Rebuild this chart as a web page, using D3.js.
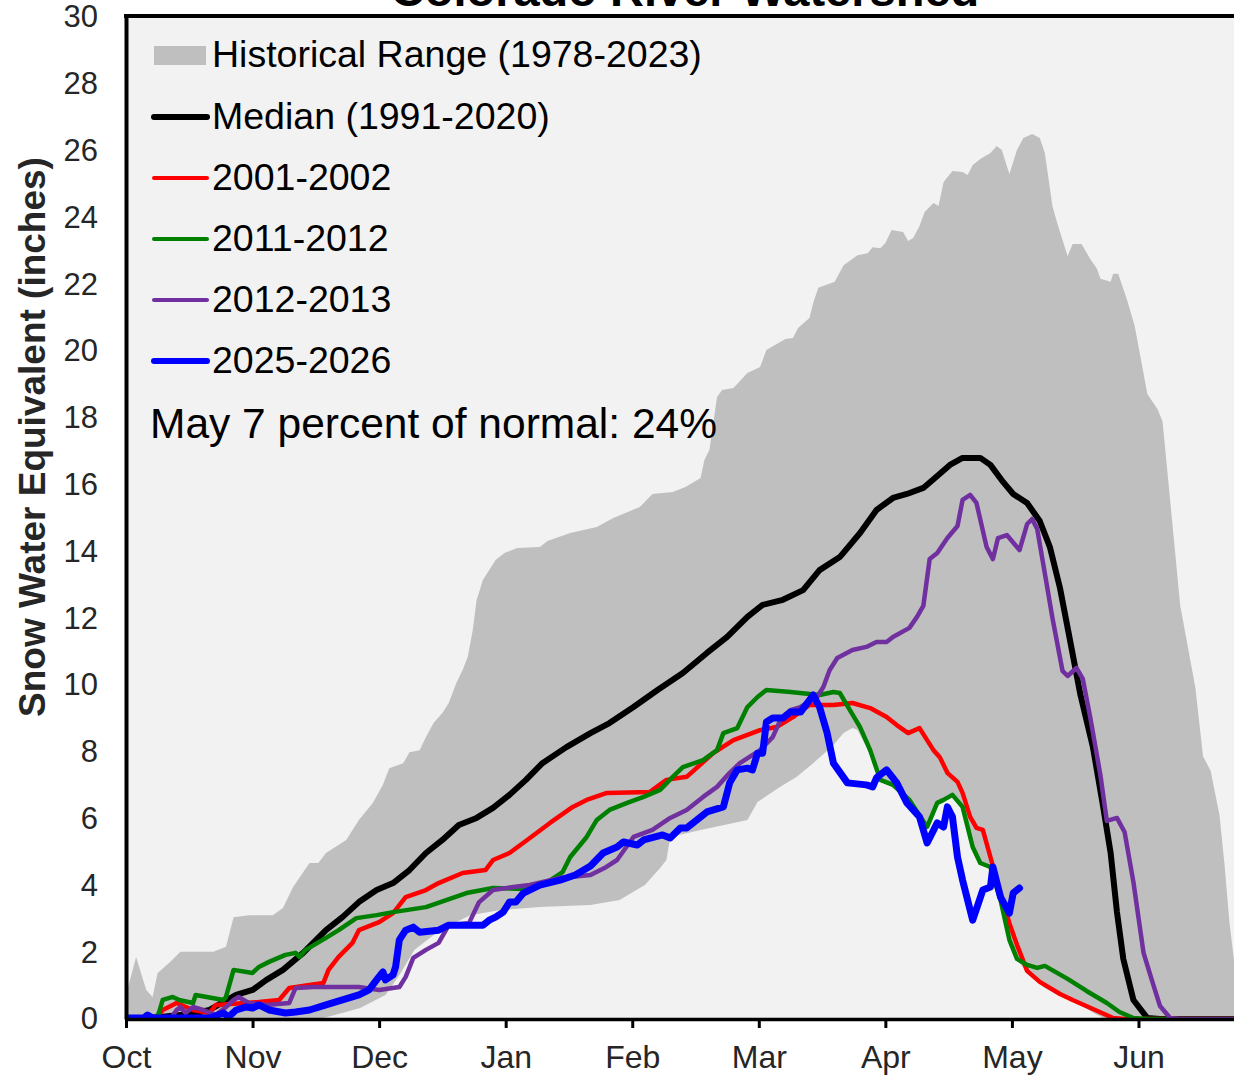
<!DOCTYPE html>
<html>
<head>
<meta charset="utf-8">
<script src="https://cdn.jsdelivr.net/npm/d3@7"></script>
<style>
  body { margin: 0; background: #ffffff; }
  svg { display: block; font-family: "Liberation Sans", Arial, sans-serif; }
</style>
</head>
<body>
<script>
// x values are in months since Oct 1 (0 = Oct, 1 = Nov, ... 8 = Jun), y values are SWE in inches
var months = ["Oct", "Nov", "Dec", "Jan", "Feb", "Mar", "Apr", "May", "Jun"];
var yTicks = [0, 2, 4, 6, 8, 10, 12, 14, 16, 18, 20, 22, 24, 26, 28, 30];

var rangeUpper = [
  [0, 0.72], [0.08, 1.86], [0.16, 0.87], [0.21, 0.66], [0.25, 1.38], [0.34, 1.68], [0.43, 2.01],
  [0.53, 2.01], [0.69, 2.01], [0.79, 2.16], [0.85, 3.05], [0.97, 3.11], [1.16, 3.11], [1.24, 3.32],
  [1.32, 3.95], [1.45, 4.67], [1.52, 4.67], [1.58, 4.97], [1.74, 5.36], [1.84, 5.96], [1.95, 6.47],
  [2.03, 7.01], [2.08, 7.51], [2.19, 7.66], [2.24, 7.99], [2.32, 8.05], [2.37, 8.44], [2.43, 8.86],
  [2.50, 9.16], [2.55, 9.46], [2.61, 10.06], [2.66, 10.45], [2.70, 10.84], [2.74, 11.65], [2.77, 12.54],
  [2.82, 13.14], [2.92, 13.74], [2.99, 13.95], [3.09, 14.10], [3.27, 14.13], [3.33, 14.31], [3.51, 14.55],
  [3.72, 14.73], [3.85, 15.00], [4.06, 15.33], [4.16, 15.72], [4.32, 15.78], [4.42, 15.93], [4.54, 16.20],
  [4.57, 16.74], [4.61, 17.04], [4.67, 18.62], [4.71, 18.83], [4.80, 18.89], [4.91, 19.34], [5.01, 19.52],
  [5.06, 20.03], [5.21, 20.36], [5.27, 20.39], [5.31, 20.69], [5.40, 20.99], [5.43, 21.44], [5.47, 21.89],
  [5.60, 22.07], [5.67, 22.57], [5.78, 22.87], [5.86, 22.93], [5.90, 23.11], [5.96, 23.08], [6.00, 23.23],
  [6.05, 23.62], [6.14, 23.56], [6.18, 23.29], [6.22, 23.38], [6.27, 23.74], [6.31, 24.16], [6.38, 24.43],
  [6.42, 24.34], [6.46, 25.06], [6.53, 25.39], [6.61, 25.36], [6.65, 25.27], [6.69, 25.57], [6.75, 25.75],
  [6.83, 25.93], [6.88, 26.14], [6.92, 26.02], [6.98, 25.30], [7.04, 26.02], [7.09, 26.38], [7.16, 26.50],
  [7.22, 26.38], [7.26, 25.93], [7.32, 24.34], [7.36, 23.80], [7.44, 22.84], [7.48, 23.20], [7.55, 23.20],
  [7.62, 22.75], [7.67, 22.48], [7.70, 22.16], [7.78, 22.07], [7.80, 22.31], [7.84, 22.31], [7.91, 21.53],
  [7.97, 20.75], [8.01, 19.94], [8.07, 18.71], [8.15, 18.26], [8.19, 17.90], [8.25, 15.54], [8.33, 12.37],
  [8.45, 9.91], [8.51, 7.87], [8.57, 7.43], [8.64, 6.11], [8.68, 4.61], [8.72, 2.84], [8.78, 1.0], [8.85, 0]
];

var rangeLower = [
  [0, 0], [1.53, 0], [1.65, 0.12], [1.85, 0.33], [2.05, 0.72], [2.16, 1.32], [2.28, 2.07], [2.48, 2.66],
  [2.72, 3.11], [2.96, 3.26], [3.27, 3.35], [3.67, 3.41], [3.90, 3.56], [4.10, 4.01], [4.22, 4.52],
  [4.27, 4.76], [4.30, 5.45], [4.54, 5.66], [4.80, 5.87], [4.91, 5.96], [4.99, 6.50], [5.17, 6.95],
  [5.30, 7.25], [5.43, 7.66], [5.59, 8.20], [5.67, 8.56], [5.74, 8.71], [5.78, 8.65], [5.85, 8.14],
  [5.96, 7.16], [6.09, 6.95], [6.22, 6.26], [6.33, 5.75], [6.41, 6.47], [6.53, 6.65], [6.61, 6.35],
  [6.69, 5.15], [6.75, 4.67], [6.83, 4.55], [6.91, 3.56], [6.98, 2.51], [7.06, 1.68], [7.14, 1.32],
  [7.26, 0.93], [7.38, 0.69], [7.54, 0.42], [7.66, 0.15], [7.74, 0], [8.85, 0]
];

var median = [
  [0, 0], [0.27, 0.06], [0.51, 0.15], [0.66, 0.27], [0.87, 0.72], [1.00, 0.87], [1.11, 1.17], [1.24, 1.47],
  [1.40, 1.98], [1.58, 2.66], [1.71, 3.05], [1.84, 3.50], [1.98, 3.86], [2.11, 4.07], [2.24, 4.46],
  [2.37, 4.97], [2.50, 5.36], [2.63, 5.81], [2.77, 6.02], [2.90, 6.32], [3.03, 6.71], [3.16, 7.16],
  [3.29, 7.66], [3.48, 8.14], [3.67, 8.56], [3.82, 8.86], [4.01, 9.34], [4.20, 9.85], [4.40, 10.36],
  [4.59, 10.96], [4.75, 11.44], [4.91, 12.04], [5.03, 12.40], [5.19, 12.55], [5.35, 12.84], [5.48, 13.44],
  [5.64, 13.83], [5.80, 14.55], [5.93, 15.24], [6.06, 15.60], [6.17, 15.72], [6.30, 15.90], [6.41, 16.26],
  [6.51, 16.59], [6.61, 16.80], [6.75, 16.80], [6.83, 16.59], [6.93, 16.08], [7.01, 15.72], [7.12, 15.45],
  [7.22, 14.91], [7.30, 14.13], [7.38, 12.90], [7.46, 11.32], [7.54, 9.73], [7.64, 8.14], [7.72, 6.38],
  [7.78, 4.97], [7.83, 3.20], [7.88, 1.80], [7.96, 0.57], [8.07, 0.03], [8.17, 0], [8.85, 0]
];

var wy2002 = [
  [0, 0], [0.23, 0], [0.29, 0.27], [0.40, 0.48], [0.53, 0.27], [0.66, 0.18], [0.71, 0.42], [1.05, 0.51],
  [1.21, 0.57], [1.29, 0.93], [1.45, 1.02], [1.56, 1.08], [1.60, 1.47], [1.68, 1.86], [1.79, 2.28],
  [1.84, 2.66], [1.90, 2.75], [2.00, 2.90], [2.11, 3.17], [2.21, 3.65], [2.37, 3.86], [2.47, 4.07],
  [2.66, 4.37], [2.84, 4.46], [2.90, 4.76], [3.03, 4.97], [3.17, 5.36], [3.35, 5.87], [3.53, 6.35],
  [3.64, 6.56], [3.80, 6.77], [4.14, 6.80], [4.27, 7.16], [4.43, 7.25], [4.64, 7.96], [4.80, 8.35],
  [5.01, 8.65], [5.14, 8.74], [5.27, 9.04], [5.40, 9.40], [5.59, 9.40], [5.74, 9.46], [5.88, 9.31],
  [6.01, 9.04], [6.09, 8.80], [6.18, 8.56], [6.27, 8.71], [6.38, 8.05], [6.43, 7.84], [6.49, 7.37],
  [6.57, 7.10], [6.61, 6.77], [6.67, 6.05], [6.72, 5.72], [6.77, 5.66], [6.83, 4.85], [6.91, 3.77],
  [6.98, 2.87], [7.04, 2.22], [7.12, 1.44], [7.22, 1.11], [7.38, 0.75], [7.48, 0.57], [7.64, 0.30],
  [7.80, 0.03], [7.89, 0], [8.85, 0]
];

var wy2012 = [
  [0, 0], [0.23, 0], [0.26, 0.18], [0.29, 0.57], [0.37, 0.66], [0.42, 0.57], [0.53, 0.48], [0.55, 0.72],
  [0.77, 0.57], [0.79, 0.66], [0.85, 1.47], [1.00, 1.38], [1.05, 1.56], [1.13, 1.71], [1.26, 1.92],
  [1.34, 1.98], [1.37, 1.86], [1.42, 2.07], [1.58, 2.43], [1.68, 2.66], [1.82, 3.02], [1.98, 3.11],
  [2.11, 3.20], [2.37, 3.35], [2.69, 3.77], [2.90, 3.92], [3.16, 3.89], [3.33, 4.10], [3.45, 4.40],
  [3.51, 4.85], [3.64, 5.45], [3.72, 5.96], [3.82, 6.26], [3.96, 6.47], [4.09, 6.65], [4.22, 6.86],
  [4.32, 7.25], [4.40, 7.54], [4.56, 7.75], [4.67, 8.05], [4.72, 8.56], [4.83, 8.71], [4.91, 9.34],
  [4.99, 9.64], [5.06, 9.85], [5.25, 9.79], [5.48, 9.70], [5.59, 9.79], [5.64, 9.76], [5.72, 9.25],
  [5.80, 8.74], [5.88, 8.05], [5.96, 7.16], [6.06, 7.01], [6.19, 6.56], [6.33, 5.75], [6.41, 6.47],
  [6.46, 6.56], [6.53, 6.71], [6.61, 6.35], [6.69, 5.15], [6.75, 4.67], [6.83, 4.55], [6.91, 3.56],
  [6.98, 2.37], [7.04, 1.80], [7.12, 1.62], [7.20, 1.53], [7.26, 1.59], [7.44, 1.20], [7.59, 0.84],
  [7.75, 0.48], [7.85, 0.21], [7.96, 0.03], [8.07, 0], [8.85, 0]
];

var wy2013 = [
  [0, 0], [0.35, 0], [0.40, 0.27], [0.43, 0.36], [0.47, 0.18], [0.53, 0.36], [0.61, 0.27], [0.71, 0.12],
  [0.79, 0.36], [0.85, 0.57], [0.89, 0.66], [0.97, 0.48], [1.11, 0.42], [1.29, 0.48], [1.34, 0.93],
  [1.48, 0.96], [1.84, 0.96], [2.00, 0.87], [2.16, 0.96], [2.21, 1.26], [2.27, 1.83], [2.37, 2.07],
  [2.47, 2.28], [2.55, 2.81], [2.71, 2.87], [2.79, 3.50], [2.90, 3.86], [3.06, 3.95], [3.19, 4.01],
  [3.43, 4.22], [3.67, 4.31], [3.78, 4.52], [3.88, 4.76], [4.01, 5.45], [4.16, 5.66], [4.30, 6.02],
  [4.43, 6.26], [4.56, 6.65], [4.67, 6.95], [4.77, 7.37], [4.85, 7.66], [5.01, 8.05], [5.11, 8.44],
  [5.17, 8.95], [5.25, 9.25], [5.33, 9.34], [5.46, 9.64], [5.51, 9.94], [5.56, 10.45], [5.62, 10.81],
  [5.74, 11.05], [5.85, 11.14], [5.93, 11.29], [6.01, 11.29], [6.06, 11.44], [6.19, 11.71], [6.25, 12.04],
  [6.30, 12.37], [6.35, 13.77], [6.41, 13.95], [6.49, 14.40], [6.57, 14.76], [6.61, 15.54], [6.67, 15.69],
  [6.72, 15.45], [6.80, 14.13], [6.85, 13.77], [6.89, 14.40], [6.96, 14.49], [7.06, 14.04], [7.12, 14.82],
  [7.16, 14.97], [7.20, 14.67], [7.28, 12.90], [7.32, 12.01], [7.40, 10.42], [7.44, 10.27], [7.51, 10.51],
  [7.56, 10.18], [7.62, 9.01], [7.70, 7.28], [7.75, 5.93], [7.83, 6.02], [7.89, 5.60], [7.96, 4.10],
  [8.04, 1.98], [8.11, 1.11], [8.17, 0.39], [8.25, 0.03], [8.33, 0], [8.85, 0]
];

var wy2026 = [
  [0, 0.03], [0.14, 0.03], [0.17, 0.12], [0.21, 0.03], [0.66, 0.03], [0.77, 0.18], [0.81, 0.06],
  [0.87, 0.27], [0.95, 0.36], [1.00, 0.33], [1.05, 0.42], [1.13, 0.27], [1.26, 0.18], [1.34, 0.21],
  [1.45, 0.27], [1.58, 0.42], [1.71, 0.57], [1.84, 0.72], [1.92, 0.87], [1.98, 1.17], [2.03, 1.41],
  [2.05, 1.17], [2.11, 1.32], [2.13, 1.56], [2.16, 2.37], [2.21, 2.66], [2.27, 2.75], [2.32, 2.60],
  [2.47, 2.66], [2.55, 2.81], [2.82, 2.81], [2.87, 2.96], [2.92, 3.05], [2.98, 3.20], [3.03, 3.50],
  [3.08, 3.50], [3.14, 3.77], [3.27, 4.01], [3.43, 4.16], [3.55, 4.31], [3.67, 4.58], [3.77, 4.97],
  [3.88, 5.15], [3.93, 5.30], [4.04, 5.21], [4.09, 5.36], [4.24, 5.51], [4.30, 5.42], [4.38, 5.72],
  [4.43, 5.72], [4.51, 5.96], [4.59, 6.20], [4.72, 6.35], [4.77, 7.07], [4.83, 7.46], [4.91, 7.51],
  [4.95, 7.46], [4.99, 7.96], [5.03, 7.96], [5.06, 8.89], [5.11, 9.01], [5.19, 9.01], [5.25, 9.19],
  [5.33, 9.19], [5.43, 9.70], [5.48, 9.34], [5.54, 8.56], [5.59, 7.66], [5.70, 7.07], [5.85, 7.01],
  [5.90, 6.95], [5.93, 7.22], [6.01, 7.46], [6.09, 7.07], [6.17, 6.47], [6.27, 6.05], [6.33, 5.27],
  [6.41, 5.87], [6.46, 5.75], [6.49, 6.35], [6.53, 6.05], [6.57, 4.85], [6.61, 4.16], [6.69, 2.96],
  [6.77, 3.86], [6.83, 3.95], [6.85, 4.55], [6.91, 3.65], [6.98, 3.17], [7.01, 3.77], [7.06, 3.92]
];

var legendLabels = ["Historical Range (1978-2023)", "Median (1991-2020)", "2001-2002", "2011-2012", "2012-2013", "2025-2026"];
var noteText = "May 7 percent of normal: 24%";

var chartWidth = 1234, chartHeight = 1075;
var plotLeft = 126, plotTop = 17, plotBottom = 1019;
var monthPx = 126.56;

var svg = d3.select("body").append("svg")
    .attr("width", chartWidth)
    .attr("height", chartHeight);

var x = d3.scaleLinear().domain([0, 9]).range([plotLeft, plotLeft + 9 * monthPx]);
var y = d3.scaleLinear().domain([0, 30]).range([plotBottom, plotTop]);

svg.append("clipPath").attr("id", "plotclip")
    .append("rect")
    .attr("x", plotLeft).attr("y", plotTop)
    .attr("width", 9 * monthPx).attr("height", plotBottom - plotTop);

// plot background
svg.append("rect")
    .attr("x", plotLeft).attr("y", plotTop)
    .attr("width", chartWidth - plotLeft).attr("height", plotBottom - plotTop)
    .attr("fill", "#f2f2f2");

var plot = svg.append("g").attr("clip-path", "url(#plotclip)");

var line = d3.line()
    .x(function (d) { return x(d[0]); })
    .y(function (d) { return y(d[1]); });

// historical range polygon
plot.append("path")
    .attr("d", line(rangeUpper.concat(rangeLower.slice().reverse())) + "Z")
    .attr("fill", "#bfbfbf");

var series = [
    { data: median, color: "#000000", width: 6 },
    { data: wy2002, color: "#ff0000", width: 4.5 },
    { data: wy2012, color: "#008000", width: 4.5 },
    { data: wy2013, color: "#7030a0", width: 4.5 },
    { data: wy2026, color: "#0000ff", width: 7 }
];

series.forEach(function (s) {
    plot.append("path")
        .attr("d", line(s.data))
        .attr("fill", "none")
        .attr("stroke", s.color)
        .attr("stroke-width", s.width)
        .attr("stroke-linejoin", "round")
        .attr("stroke-linecap", "round");
});

// axes
var xAxis = svg.append("g")
    .attr("transform", "translate(0," + plotBottom + ")")
    .call(d3.axisBottom(x)
        .tickValues(d3.range(months.length))
        .tickFormat(function (i) { return months[i]; })
        .tickSizeInner(9).tickSizeOuter(0).tickPadding(17));
xAxis.select(".domain").attr("stroke", "#000").attr("stroke-width", 3.5);
xAxis.selectAll(".tick line").attr("stroke", "#000").attr("stroke-width", 3);
xAxis.selectAll(".tick text")
    .attr("font-size", 32).attr("fill", "#262626")
    .attr("font-family", "Liberation Sans, Arial, sans-serif");

var yAxis = svg.append("g")
    .attr("transform", "translate(" + plotLeft + ",0)")
    .call(d3.axisLeft(y).tickValues(yTicks).tickSize(0).tickPadding(28));
yAxis.select(".domain").attr("stroke", "#000").attr("stroke-width", 4);
yAxis.selectAll(".tick text")
    .attr("font-size", 31).attr("fill", "#262626")
    .attr("font-family", "Liberation Sans, Arial, sans-serif");

// top frame
svg.append("line")
    .attr("x1", plotLeft - 2).attr("x2", chartWidth)
    .attr("y1", plotTop - 1).attr("y2", plotTop - 1)
    .attr("stroke", "#000").attr("stroke-width", 4);

// title (mostly cut off at top)
svg.append("text")
    .attr("x", 685).attr("y", 6)
    .attr("text-anchor", "middle")
    .attr("font-size", 47).attr("font-weight", "bold")
    .attr("fill", "#000")
    .text("Colorado River Watershed");

// y axis label
svg.append("text")
    .attr("transform", "translate(45,437) rotate(-90)")
    .attr("text-anchor", "middle")
    .attr("font-size", 37).attr("font-weight", "bold")
    .attr("fill", "#262626")
    .text("Snow Water Equivalent (inches)");

// legend
var legend = svg.append("g");
var rowY = [55, 117, 178, 239, 300, 361];
legend.append("rect")
    .attr("x", 154).attr("y", rowY[0] - 9)
    .attr("width", 52).attr("height", 19)
    .attr("fill", "#bfbfbf");
series.forEach(function (s, i) {
    legend.append("line")
        .attr("x1", 154).attr("x2", 207)
        .attr("y1", rowY[i + 1]).attr("y2", rowY[i + 1])
        .attr("stroke", s.color)
        .attr("stroke-width", i === 0 || i === 4 ? 6 : 4)
        .attr("stroke-linecap", "round");
});
legendLabels.forEach(function (label, i) {
    legend.append("text")
        .attr("x", 212).attr("y", rowY[i] + 12)
        .attr("font-size", 37.5).attr("fill", "#000")
        .text(label);
});

svg.append("text")
    .attr("x", 150).attr("y", 438)
    .attr("font-size", 42.5).attr("fill", "#000")
    .text(noteText);
</script>
</body>
</html>
